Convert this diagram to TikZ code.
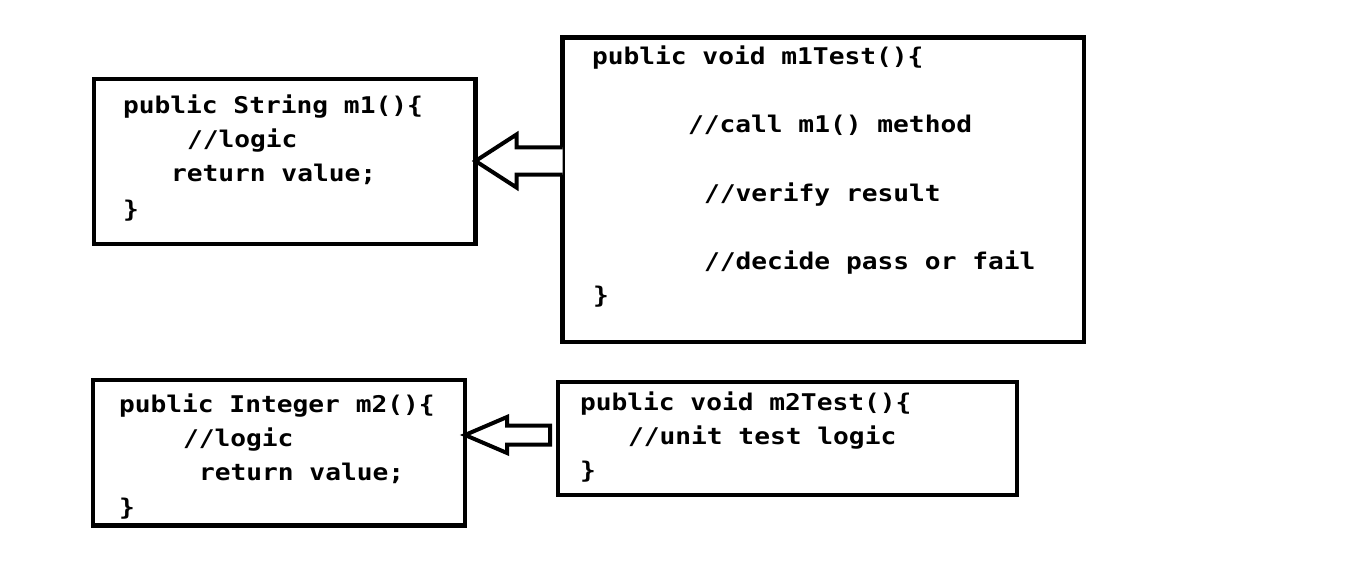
\documentclass[tikz,border=0pt]{standalone}
\usepackage{fontspec}
\newfontfamily\codefont[FakeStretch=1.14]{DejaVu Sans Mono}
\usetikzlibrary{calc}
\begin{document}
\begin{tikzpicture}[x=1pt,y=-1pt,
  box/.style={draw=black,line width=4.4pt,rectangle,inner sep=0pt,outer sep=0pt,fill=none},
  code/.style={anchor=base west,inner sep=0pt,outer sep=0pt,font=\codefont\bfseries\fontsize{23}{23}\selectfont},
  blockarrow/.style={draw=black,line width=4pt,line join=miter,fill=white}]
\useasboundingbox[fill=white] (0,0) rectangle (1360,567);
% boxes
\node[box,minimum width=381.5pt,minimum height=165pt] (b1) at (284.75,161.5) {};
\node[box,minimum width=521.5pt,minimum height=304.5pt] (b2) at (823.25,189.75) {};
\node[box,minimum width=372pt,minimum height=145.5pt] (b3) at (279,452.75) {};
\node[box,minimum width=459pt,minimum height=113pt] (b4) at (787.5,438.5) {};
% text box 1
\node[code] (t1a) at (123,114) {public String m1()\{};
\node[code] (t1b) at (187,147) {//logic};
\node[code] (t1c) at (171,182) {return value;};
\node[code] (t1d) at (123,217) {\}};
% text box 2
\node[code] (t2a) at (592,65) {public void m1Test()\{};
\node[code] (t2b) at (688,133) {//call m1() method};
\node[code] (t2c) at (704,201) {//verify result};
\node[code] (t2d) at (704,269) {//decide pass or fail};
\node[code] (t2e) at (593,303) {\}};
% text box 3
\node[code] (t3a) at (119,412) {public Integer m2()\{};
\node[code] (t3b) at (183,446) {//logic};
\node[code] (t3c) at (199,480) {return value;};
\node[code] (t3d) at (119,515) {\}};
% text box 4
\node[code] (t4a) at (580,410) {public void m2Test()\{};
\node[code] (t4b) at (628,444) {//unit test logic};
\node[code] (t4c) at (580,478) {\}};
% arrow 1: from b2 to b1
\coordinate (a1tip) at ($(b1.east)+(0,-0.5)$);
\coordinate (a1end) at (a1tip -| b2.west);
\draw[blockarrow] ($(a1end)+(0,-13.5)$) -- ($(a1tip)+(41,-13.5)$) -- ($(a1tip)+(41,-26.5)$)
  -- (a1tip) -- ($(a1tip)+(41,26.5)$) -- ($(a1tip)+(41,13.5)$) -- ($(a1end)+(0,13.5)$);
% arrow 2: from b4 to b3
\coordinate (a2tip) at ($(b3.east)+(0,-17.75)$);
\coordinate (a2end) at ($(a2tip -| b4.west)+(-8,0)$);
\draw[blockarrow] ($(a2end)+(0,-9.5)$) -- ($(a2tip)+(42,-9.5)$) -- ($(a2tip)+(42,-18)$)
  -- (a2tip) -- ($(a2tip)+(42,18)$) -- ($(a2tip)+(42,9.5)$) -- ($(a2end)+(0,9.5)$) -- cycle;
\end{tikzpicture}
\end{document}
